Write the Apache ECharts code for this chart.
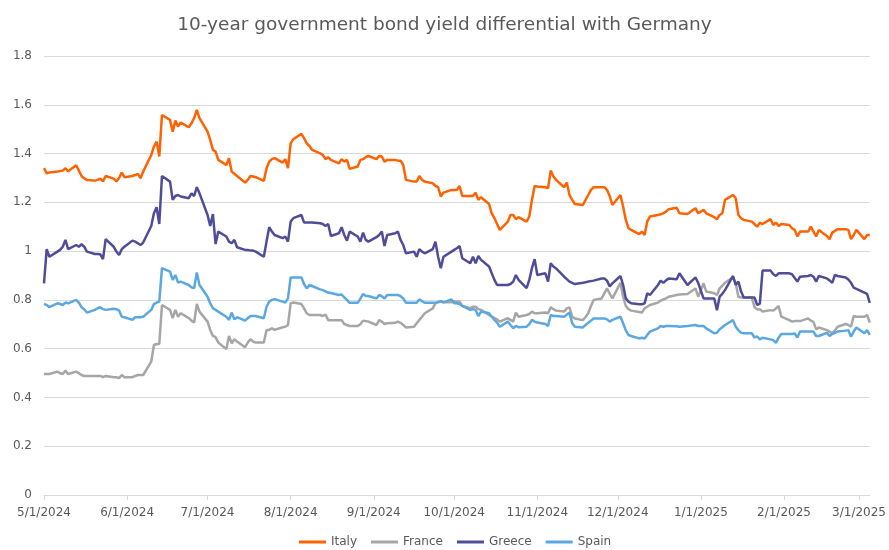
<!DOCTYPE html>
<html>
<head>
<meta charset="utf-8">
<script src="https://cdn.jsdelivr.net/npm/echarts@6/dist/echarts.min.js"></script>
<style>
html,body{margin:0;padding:0;background:#fff;}
#c{width:889px;height:550px;}
</style>
</head>
<body>
<div id="c"></div>
<script>
const titleText = '10-year government bond yield differential with Germany';
const seriesNames = ['Italy', 'France', 'Greece', 'Spain'];

const dates = [
'2024-05-01','2024-05-02','2024-05-03','2024-05-06','2024-05-07','2024-05-08','2024-05-09','2024-05-10','2024-05-13','2024-05-14','2024-05-15','2024-05-16','2024-05-17','2024-05-20','2024-05-21','2024-05-22','2024-05-23','2024-05-24','2024-05-27','2024-05-28','2024-05-29','2024-05-30','2024-05-31',
'2024-06-03','2024-06-04','2024-06-05','2024-06-06','2024-06-07','2024-06-10','2024-06-11','2024-06-12','2024-06-13','2024-06-14','2024-06-17','2024-06-18','2024-06-19','2024-06-20','2024-06-21','2024-06-24','2024-06-25','2024-06-26','2024-06-27','2024-06-28',
'2024-07-01','2024-07-02','2024-07-03','2024-07-04','2024-07-05','2024-07-08','2024-07-09','2024-07-10','2024-07-11','2024-07-12','2024-07-15','2024-07-16','2024-07-17','2024-07-18','2024-07-19','2024-07-22','2024-07-23','2024-07-24','2024-07-25','2024-07-26','2024-07-29','2024-07-30','2024-07-31',
'2024-08-01','2024-08-02','2024-08-05','2024-08-06','2024-08-07','2024-08-08','2024-08-09','2024-08-12','2024-08-13','2024-08-14','2024-08-15','2024-08-16','2024-08-19','2024-08-20','2024-08-21','2024-08-22','2024-08-23','2024-08-26','2024-08-27','2024-08-28','2024-08-29','2024-08-30',
'2024-09-02','2024-09-03','2024-09-04','2024-09-05','2024-09-06','2024-09-09','2024-09-10','2024-09-11','2024-09-12','2024-09-13','2024-09-16','2024-09-17','2024-09-18','2024-09-19','2024-09-20','2024-09-23','2024-09-24','2024-09-25','2024-09-26','2024-09-27','2024-09-30',
'2024-10-01','2024-10-02','2024-10-03','2024-10-04','2024-10-07','2024-10-08','2024-10-09','2024-10-10','2024-10-11','2024-10-14','2024-10-15','2024-10-16','2024-10-17','2024-10-18','2024-10-21','2024-10-22','2024-10-23','2024-10-24','2024-10-25','2024-10-28','2024-10-29','2024-10-30','2024-10-31',
'2024-11-01','2024-11-04','2024-11-05','2024-11-06','2024-11-07','2024-11-08','2024-11-11','2024-11-12','2024-11-13','2024-11-14','2024-11-15','2024-11-18','2024-11-19','2024-11-20','2024-11-21','2024-11-22','2024-11-25','2024-11-26','2024-11-27','2024-11-28','2024-11-29',
'2024-12-02','2024-12-03','2024-12-04','2024-12-05','2024-12-06','2024-12-09','2024-12-10','2024-12-11','2024-12-12','2024-12-13','2024-12-16','2024-12-17','2024-12-18','2024-12-19','2024-12-20','2024-12-23','2024-12-24','2024-12-27','2024-12-30','2024-12-31',
'2025-01-02','2025-01-03','2025-01-06','2025-01-07','2025-01-08','2025-01-09','2025-01-10','2025-01-13','2025-01-14','2025-01-15','2025-01-16','2025-01-17','2025-01-20','2025-01-21','2025-01-22','2025-01-23','2025-01-24','2025-01-27','2025-01-28','2025-01-29','2025-01-30','2025-01-31',
'2025-02-03','2025-02-04','2025-02-05','2025-02-06','2025-02-07','2025-02-10','2025-02-11','2025-02-12','2025-02-13','2025-02-14','2025-02-17','2025-02-18','2025-02-19','2025-02-20','2025-02-21','2025-02-24','2025-02-25','2025-02-26','2025-02-27','2025-02-28',
'2025-03-03','2025-03-04','2025-03-05'
];

const italy = [
1.340,1.319,1.322,1.326,1.328,1.330,1.340,1.327,1.352,1.330,1.308,1.298,1.292,1.289,1.292,1.297,1.286,1.308,1.297,1.286,1.300,1.322,1.303,
1.308,1.312,1.317,1.299,1.326,1.394,1.429,1.449,1.388,1.558,1.538,1.490,1.535,1.511,1.527,1.508,1.524,1.545,1.579,1.545,
1.490,1.456,1.415,1.408,1.374,1.353,1.381,1.326,1.317,1.308,1.281,1.292,1.308,1.306,1.303,1.288,1.340,1.367,1.377,1.381,1.363,1.377,1.340,
1.442,1.459,1.481,1.463,1.442,1.431,1.415,1.401,1.394,1.377,1.385,1.374,1.360,1.377,1.367,1.374,1.337,1.347,1.374,1.377,1.385,1.390,
1.377,1.390,1.388,1.367,1.374,1.374,1.371,1.371,1.353,1.292,1.285,1.285,1.308,1.292,1.285,1.278,1.267,1.262,1.224,1.240,1.251,
1.251,1.251,1.267,1.226,1.226,1.226,1.240,1.210,1.221,1.193,1.155,1.135,1.111,1.087,1.121,1.148,1.148,1.131,1.139,1.121,1.142,1.210,1.267,
1.265,1.262,1.258,1.330,1.306,1.292,1.262,1.281,1.230,1.210,1.193,1.189,1.210,1.230,1.251,1.262,1.262,1.262,1.251,1.226,1.189,
1.230,1.183,1.128,1.094,1.087,1.070,1.080,1.066,1.121,1.142,1.148,1.151,1.155,1.162,1.172,1.178,1.155,1.152,1.176,1.155,
1.169,1.155,1.139,1.131,1.148,1.155,1.210,1.230,1.217,1.148,1.135,1.128,1.121,1.111,1.100,1.117,1.111,1.131,1.107,1.117,1.103,1.111,
1.107,1.094,1.087,1.060,1.080,1.080,1.100,1.080,1.060,1.087,1.062,1.049,1.076,1.083,1.090,1.090,1.087,1.049,1.066,1.087,
1.049,1.066,1.066
];

const france = [
0.496,0.496,0.496,0.506,0.499,0.496,0.510,0.496,0.506,0.499,0.492,0.488,0.488,0.488,0.488,0.488,0.483,0.488,0.483,0.483,0.479,0.492,0.483,
0.483,0.488,0.492,0.492,0.492,0.547,0.615,0.619,0.619,0.779,0.759,0.725,0.759,0.731,0.745,0.725,0.715,0.707,0.783,0.752,
0.711,0.677,0.652,0.647,0.625,0.598,0.652,0.622,0.639,0.629,0.606,0.625,0.639,0.629,0.625,0.625,0.677,0.677,0.684,0.677,0.688,0.690,0.697,
0.786,0.789,0.783,0.765,0.745,0.738,0.738,0.738,0.734,0.740,0.717,0.717,0.717,0.717,0.701,0.697,0.693,0.693,0.700,0.715,0.713,0.711,
0.697,0.717,0.711,0.701,0.704,0.706,0.711,0.706,0.697,0.687,0.690,0.704,0.718,0.731,0.745,0.765,0.786,0.790,0.793,0.790,0.790,
0.795,0.793,0.793,0.775,0.766,0.772,0.772,0.762,0.759,0.738,0.731,0.725,0.720,0.711,0.725,0.718,0.711,0.748,0.731,0.738,0.742,0.752,0.745,
0.745,0.748,0.745,0.770,0.762,0.756,0.752,0.765,0.769,0.731,0.724,0.717,0.730,0.745,0.775,0.800,0.806,0.827,0.847,0.826,0.806,
0.870,0.813,0.775,0.762,0.756,0.750,0.748,0.765,0.772,0.779,0.789,0.797,0.802,0.806,0.813,0.820,0.822,0.824,0.847,0.813,
0.868,0.834,0.827,0.820,0.847,0.858,0.870,0.893,0.868,0.813,0.810,0.810,0.810,0.770,0.761,0.762,0.752,0.758,0.756,0.765,0.775,0.731,
0.717,0.711,0.713,0.713,0.713,0.724,0.715,0.710,0.679,0.687,0.676,0.670,0.663,0.675,0.690,0.701,0.697,0.690,0.734,0.731,
0.731,0.738,0.707
];

const greece = [
0.868,1.008,0.977,0.998,1.005,1.018,1.046,1.008,1.025,1.018,1.028,1.018,0.998,0.988,0.988,0.987,0.967,1.049,1.018,0.998,0.984,1.008,1.018,
1.043,1.039,1.032,1.025,1.035,1.103,1.155,1.180,1.111,1.308,1.285,1.210,1.226,1.230,1.224,1.217,1.237,1.226,1.262,1.237,
1.148,1.103,1.152,1.029,1.080,1.060,1.039,1.032,1.046,1.016,1.005,1.005,1.002,1.002,0.998,0.977,1.039,1.098,1.080,1.066,1.053,1.060,1.039,
1.121,1.135,1.148,1.117,1.117,1.117,1.117,1.114,1.111,1.103,1.111,1.062,1.073,1.098,1.066,1.043,1.080,1.060,1.039,1.076,1.046,1.039,
1.057,1.066,1.080,1.021,1.066,1.073,1.080,1.046,1.025,0.991,0.998,0.977,1.008,0.998,0.991,1.008,1.039,0.977,0.930,0.977,0.998,
1.005,1.012,1.021,0.971,0.950,0.977,0.950,0.980,0.964,0.937,0.909,0.882,0.861,0.861,0.861,0.865,0.875,0.902,0.882,0.848,0.882,0.930,0.967,
0.902,0.909,0.875,0.950,0.937,0.929,0.895,0.885,0.875,0.870,0.865,0.870,0.872,0.875,0.877,0.879,0.888,0.888,0.879,0.855,0.868,
0.898,0.861,0.806,0.793,0.786,0.782,0.782,0.786,0.827,0.820,0.861,0.879,0.870,0.880,0.888,0.885,0.909,0.861,0.892,0.870,
0.806,0.806,0.806,0.758,0.813,0.825,0.840,0.898,0.861,0.875,0.834,0.810,0.810,0.810,0.779,0.785,0.920,0.920,0.905,0.898,0.909,0.909,
0.909,0.905,0.890,0.875,0.895,0.898,0.902,0.895,0.875,0.898,0.888,0.880,0.870,0.902,0.898,0.892,0.884,0.870,0.850,0.845,
0.830,0.825,0.788
];

const spain = [
0.783,0.779,0.770,0.786,0.783,0.779,0.789,0.786,0.800,0.789,0.770,0.762,0.748,0.759,0.766,0.770,0.762,0.759,0.764,0.762,0.756,0.731,0.729,
0.718,0.729,0.729,0.729,0.731,0.759,0.783,0.789,0.793,0.930,0.916,0.882,0.902,0.871,0.875,0.861,0.852,0.848,0.912,0.861,
0.813,0.786,0.766,0.759,0.752,0.731,0.718,0.748,0.720,0.729,0.715,0.725,0.734,0.734,0.734,0.725,0.772,0.793,0.800,0.803,0.793,0.789,0.806,
0.892,0.892,0.892,0.865,0.847,0.861,0.857,0.843,0.840,0.835,0.830,0.828,0.820,0.822,0.810,0.800,0.788,0.788,0.805,0.824,0.816,0.816,
0.806,0.820,0.815,0.806,0.820,0.820,0.820,0.815,0.806,0.788,0.788,0.788,0.802,0.795,0.788,0.788,0.788,0.792,0.795,0.790,0.802,
0.786,0.786,0.783,0.775,0.759,0.762,0.759,0.734,0.752,0.745,0.731,0.718,0.707,0.690,0.711,0.697,0.684,0.693,0.688,0.690,0.701,0.718,0.711,
0.707,0.701,0.693,0.738,0.734,0.734,0.731,0.740,0.748,0.704,0.690,0.687,0.697,0.706,0.715,0.724,0.724,0.724,0.720,0.711,0.718,
0.731,0.704,0.675,0.656,0.652,0.642,0.645,0.642,0.656,0.670,0.683,0.693,0.690,0.693,0.693,0.692,0.690,0.693,0.697,0.693,
0.693,0.683,0.663,0.665,0.680,0.688,0.697,0.717,0.690,0.676,0.665,0.663,0.663,0.646,0.650,0.638,0.645,0.638,0.635,0.624,0.645,0.660,
0.660,0.660,0.662,0.646,0.670,0.670,0.670,0.670,0.652,0.652,0.665,0.652,0.660,0.665,0.670,0.674,0.676,0.649,0.670,0.687,
0.663,0.676,0.656
];

const yTicks = { min: 0, max: 1.8, step: 0.2 };
const xRange = { min: '2024-05-01', max: '2025-03-05' };
const colors = ['#FF6200', '#A6A6A6', '#4F4D97', '#5BA8E0'];

[italy, france, greece, spain].forEach((s, i) => {
  if (s.length !== dates.length) throw new Error(seriesNames[i] + ' length ' + s.length + ' vs ' + dates.length);
});

const zip = vals => dates.map((d, i) => [d, vals[i]]);

const font = '"DejaVu Sans", Verdana, sans-serif';
const chart = echarts.init(document.getElementById('c'), null, { renderer: 'canvas' });
chart.setOption({
  animation: false,
  color: colors,
  title: {
    text: titleText,
    left: 'center',
    top: 11,
    textStyle: { fontFamily: font, fontSize: 18.5, fontWeight: 'normal', color: '#595959' }
  },
  grid: { left: 44, right: 17, top: 56, bottom: 55, containLabel: false },
  xAxis: {
    type: 'time',
    min: xRange.min,
    max: xRange.max,
    splitNumber: 10,
    axisLine: { show: true, lineStyle: { color: '#D9D9D9', width: 1 } },
    axisTick: { show: true, length: 5, lineStyle: { color: '#D9D9D9' } },
    axisLabel: { formatter: '{M}/{d}/{yyyy}', color: '#595959', fontFamily: font, fontSize: 12, margin: 12, hideOverlap: false },
    splitLine: { show: false }
  },
  yAxis: {
    type: 'value',
    min: yTicks.min,
    max: yTicks.max,
    interval: yTicks.step,
    axisLine: { show: false },
    axisTick: { show: false },
    axisLabel: { color: '#595959', fontFamily: font, fontSize: 12, margin: 12 },
    splitLine: { lineStyle: { color: '#D9D9D9', width: 1 } }
  },
  legend: {
    data: seriesNames,
    top: 531,
    left: 294,
    padding: [5, 5, 5, 5],
    icon: 'rect',
    itemWidth: 27,
    itemHeight: 3,
    itemGap: 14,
    textStyle: { color: '#595959', fontFamily: font, fontSize: 12 }
  },
  series: [
    { name: 'Italy', type: 'line', data: zip(italy) },
    { name: 'France', type: 'line', data: zip(france) },
    { name: 'Greece', type: 'line', data: zip(greece) },
    { name: 'Spain', type: 'line', data: zip(spain) }
  ].map(s => Object.assign(s, { showSymbol: false, symbol: 'none', lineStyle: { width: 2.5 }, emphasis: { disabled: true } }))
});
</script>
</body>
</html>
